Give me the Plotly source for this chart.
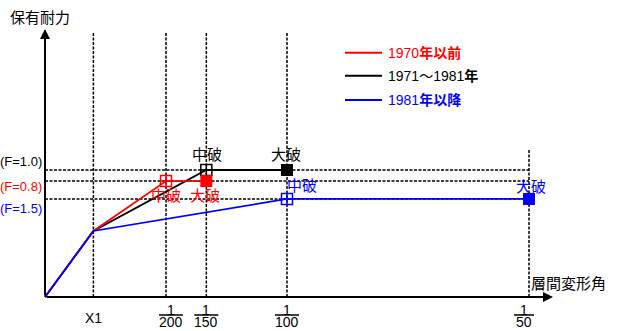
import plotly.graph_objects as go

# ---------------- data ----------------
X1 = 0.002
tick_vals = [X1, 1/200, 1/150, 1/100, 1/50]
tick_num = ["", "1", "1", "1", "1"]
tick_den = ["X1", "200", "150", "100", "50"]

red_x = [0, X1, 1/200, 1/150]
red_y = [0, 0.52, 0.913, 0.913]
black_x = [0, X1, 1/150, 1/100]
black_y = [0, 0.52, 1.0, 1.0]
blue_x = [0, X1, 1/100, 1/50]
blue_y = [0, 0.52, 0.772, 0.772]

level_y = [1.0, 0.913, 0.772]
level_labels = ["(F=1.0)", "(F=0.8)", "(F=1.5)"]
legend_labels = ["1970<b>年以前</b>", "1971～1981<b>年</b>", "1981<b>年以降</b>"]
RED, BLACK, BLUE = "#ff0000", "#000000", "#0000ff"
colors = [BLACK, RED, BLUE]

# ---------------- layout helpers ----------------
W, H = 621, 331
X0PX, Y0PX, KX, KY = 45, 297, 24200, 127
xr = [(0 - X0PX) / KX, (W - X0PX) / KX]
yr = [(Y0PX - H) / KY, Y0PX / KY]
FONT = "Liberation Sans, Arial, Noto Sans CJK JP, sans-serif"


def pxx(p):
    return p / W


def pyy(p):
    return 1 - p / H


fig = go.Figure()

shapes = []
annotations = []

# dotted grid lines
DOT = dict(color="black", width=1.5, dash="3px,1.5px")
grid_top = (Y0PX - 32) / KY
for i, v in enumerate(tick_vals):
    top = grid_top if i < len(tick_vals) - 1 else (Y0PX - 150) / KY
    shapes.append(dict(type="line", xref="x", yref="y", x0=v, x1=v, y0=0, y1=top, line=DOT, layer="below"))
for lv in level_y:
    shapes.append(dict(type="line", xref="x", yref="y", x0=0, x1=1/50, y0=lv, y1=lv, line=DOT, layer="below"))

# series
def add_series(xs, ys, color):
    fig.add_trace(go.Scatter(x=xs, y=ys, mode="lines", line=dict(color=color, width=1.8),
                             showlegend=False, hoverinfo="skip"))
    fig.add_trace(go.Scatter(x=[xs[2]], y=[ys[2]], mode="markers",
                             marker=dict(symbol="square-cross-open", size=11, color=color,
                                         line=dict(width=1.5, color=color)),
                             showlegend=False, hoverinfo="skip"))
    fig.add_trace(go.Scatter(x=[xs[3]], y=[ys[3]], mode="markers",
                             marker=dict(symbol="square", size=12, color=color),
                             showlegend=False, hoverinfo="skip"))

add_series(black_x, black_y, BLACK)
add_series(red_x, red_y, RED)
add_series(blue_x, blue_y, BLUE)

# point labels (中破 / 大破)
pt_labels = [
    (black_x[2], black_y[2], "中破", BLACK, 1, 16),
    (black_x[3], black_y[3], "大破", BLACK, -1, 16),
    (red_x[2], red_y[2], "中破", RED, 0, -14),
    (red_x[3], red_y[3], "大破", RED, -1, -14),
    (blue_x[2], blue_y[2], "中破", BLUE, 15, 13),
    (blue_x[3], blue_y[3], "大破", BLUE, 2, 12),
]
for x, y, t, c, xs, ys in pt_labels:
    annotations.append(dict(x=x, y=y, xref="x", yref="y", text=t, showarrow=False,
                            xshift=xs, yshift=ys, font=dict(family=FONT, size=15, color=c)))

# axes with arrows
annotations.append(dict(x=0, y=(Y0PX - 29) / KY, ax=0, ay=0, xref="x", yref="y", axref="x", ayref="y",
                        text="", showarrow=True, arrowhead=2, arrowsize=1, arrowwidth=2, arrowcolor="black"))
annotations.append(dict(x=(553 - X0PX) / KX, y=0, ax=0, ay=0, xref="x", yref="y", axref="x", ayref="y",
                        text="", showarrow=True, arrowhead=2, arrowsize=1, arrowwidth=2, arrowcolor="black"))

# axis titles
annotations.append(dict(x=pxx(8), y=pyy(18), xref="paper", yref="paper", text="保有耐力", showarrow=False,
                        xanchor="left", yanchor="middle", font=dict(family=FONT, size=15, color="black")))
annotations.append(dict(x=pxx(529), y=pyy(283), xref="paper", yref="paper", text="層間変形角", showarrow=False,
                        xanchor="left", yanchor="middle", font=dict(family=FONT, size=15, color="black")))

# x tick labels (fractions)
tick_shift = [0, 5, 0, 0, -5]
for v, n, d, s in zip(tick_vals, tick_num, tick_den, tick_shift):
    if n:
        annotations.append(dict(x=v, y=pyy(309.5), xref="x", yref="paper", text=n, showarrow=False,
                                xshift=s, yanchor="middle", font=dict(family=FONT, size=14, color="black")))
        annotations.append(dict(x=v, y=pyy(322), xref="x", yref="paper", text=d, showarrow=False,
                                xshift=s, yanchor="middle", font=dict(family=FONT, size=14, color="black")))
        half = 12 if len(d) == 3 else 10
        shapes.append(dict(type="line", xref="x", yref="paper", xsizemode="pixel", xanchor=v,
                           x0=s - half, x1=s + half, y0=pyy(315), y1=pyy(315),
                           line=dict(color="black", width=1.5)))
    else:
        annotations.append(dict(x=v, y=pyy(318), xref="x", yref="paper", text=d, showarrow=False,
                                yanchor="middle", font=dict(family=FONT, size=14, color="black")))

# level labels on the left
level_py = [161.7, 186.7, 208.3]
for lab, c, p in zip(level_labels, colors, level_py):
    annotations.append(dict(x=pxx(44), y=pyy(p), xref="paper", yref="paper", text=lab, showarrow=False,
                            xanchor="right", yanchor="middle", font=dict(family=FONT, size=13, color=c)))

# legend
leg_colors = [RED, BLACK, BLUE]
leg_py = [52.7, 75.7, 100]
for lab, c, p in zip(legend_labels, leg_colors, leg_py):
    shapes.append(dict(type="line", xref="paper", yref="paper", x0=pxx(345), x1=pxx(382),
                       y0=pyy(p), y1=pyy(p), line=dict(color=c, width=2)))
    annotations.append(dict(x=pxx(386), y=pyy(p), xref="paper", yref="paper", text=lab, showarrow=False,
                            xanchor="left", yanchor="middle", font=dict(family=FONT, size=14, color=c)))

fig.update_layout(
    width=W, height=H, autosize=False,
    margin=dict(l=0, r=0, t=0, b=0, pad=0),
    paper_bgcolor="white", plot_bgcolor="white",
    xaxis=dict(range=xr, visible=False, fixedrange=True),
    yaxis=dict(range=yr, visible=False, fixedrange=True),
    shapes=shapes, annotations=annotations, showlegend=False,
)

fig.write_html("out.html", config={"displayModeBar": False},
               post_script="document.body.style.margin='0';document.body.style.overflow='hidden';")
